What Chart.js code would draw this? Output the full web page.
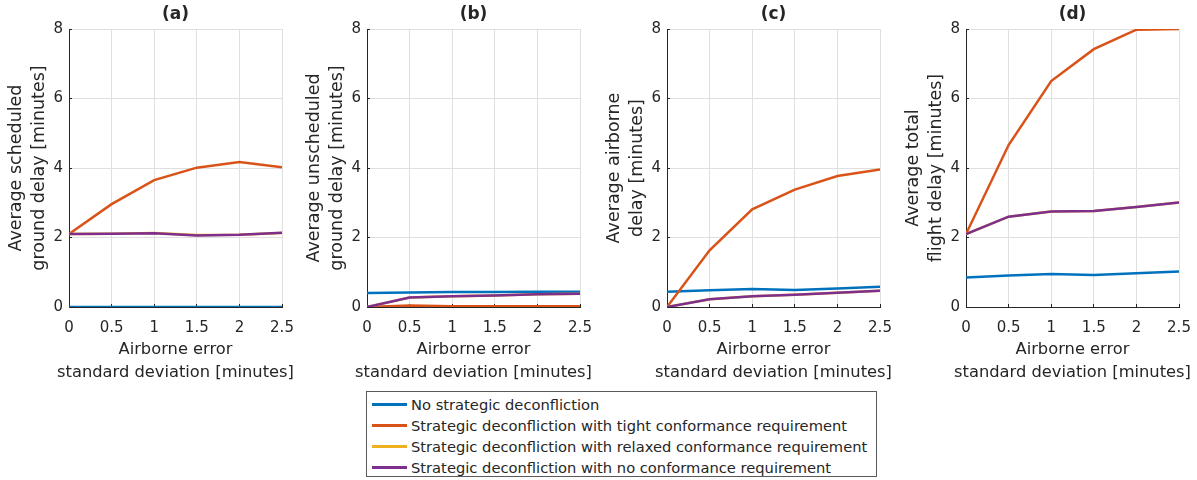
<!DOCTYPE html>
<html>
<head>
<meta charset="utf-8">
<script src="https://cdn.jsdelivr.net/npm/chart.js@4.4.1/dist/chart.umd.min.js"></script>
<style>
  html, body { margin: 0; padding: 0; background: #ffffff; }
  body { width: 1197px; height: 480px; position: relative; overflow: hidden; font-family: 'DejaVu Sans', sans-serif; color: #262626; }
  canvas { position: absolute; top: 0; }
  #legend { position: absolute; left: 366px; top: 391px; width: 511px; height: 86px; border: 1px solid #5a5a5a; box-sizing: border-box; background: #fff; }
  .row { position: absolute; left: 0; height: 21px; display: flex; align-items: center; font-size: 14.7px; white-space: nowrap; }
  .swatch { width: 35px; height: 2.5px; margin-left: 5px; margin-right: 4px; }
</style>
</head>
<body>
<canvas id="ca" width="298" height="390" style="left:0px"></canvas>
<canvas id="cb" width="298" height="390" style="left:298px"></canvas>
<canvas id="cc" width="298" height="390" style="left:598px"></canvas>
<canvas id="cd" width="298" height="390" style="left:897px"></canvas>
<div id="legend"></div>
<script>
// ---- data ----
const xValues = [0, 0.5, 1, 1.5, 2, 2.5];
const seriesNames = [
  'No strategic deconfliction',
  'Strategic deconfliction with tight conformance requirement',
  'Strategic deconfliction with relaxed conformance requirement',
  'Strategic deconfliction with no conformance requirement'
];
const yTicks = [0, 2, 4, 6, 8];
const panelTitles = ['(a)', '(b)', '(c)', '(d)'];
const yTitles = [
  ['Average scheduled', 'ground delay [minutes]'],
  ['Average unscheduled', 'ground delay [minutes]'],
  ['Average airborne', 'delay [minutes]'],
  ['Average total', 'flight delay [minutes]']
];
const xTitle = ['Airborne error', 'standard deviation [minutes]'];

// (a) scheduled ground delay
const aNone    = [0, 0, 0, 0, 0, 0];
const aTight   = [2.10, 2.96, 3.65, 4.01, 4.17, 4.02];
const aRelaxed = [2.10, 2.11, 2.13, 2.07, 2.08, 2.13];
const aNoConf  = [2.10, 2.11, 2.12, 2.06, 2.08, 2.14];
// (b) unscheduled ground delay
const bNone    = [0.40, 0.42, 0.43, 0.43, 0.44, 0.44];
const bTight   = [0, 0.04, 0.02, 0.02, 0.02, 0.02];
const bRelaxed = [0, 0.27, 0.31, 0.33, 0.37, 0.38];
const bNoConf  = [0, 0.27, 0.31, 0.33, 0.37, 0.38];
// (c) airborne delay
const cNone    = [0.44, 0.48, 0.52, 0.49, 0.53, 0.58];
const cTight   = [0, 1.63, 2.81, 3.38, 3.77, 3.96];
const cRelaxed = [0, 0.22, 0.31, 0.35, 0.41, 0.47];
const cNoConf  = [0, 0.22, 0.31, 0.35, 0.41, 0.47];
// (d) total flight delay
const dNone    = [0.85, 0.91, 0.95, 0.92, 0.97, 1.02];
const dTight   = [2.10, 4.66, 6.50, 7.42, 7.98, 8.00];
const dRelaxed = [2.10, 2.60, 2.75, 2.76, 2.88, 3.01];
const dNoConf  = [2.10, 2.60, 2.75, 2.76, 2.88, 3.01];

// ---- styles ----
const colors = ['#0072BD', '#D95319', '#EDB120', '#7E2F8E'];
const drawOrder = [4, 3, 2, 1];
const axisColor = '#262626';
const gridColor = '#dfdfdf';
const FONT = "'DejaVu Sans', sans-serif";

Chart.defaults.font.family = FONT;
Chart.defaults.color = axisColor;

const inwardTicks = {
  id: 'inwardTicks',
  beforeDatasetsDraw(chart) {
    const { ctx, chartArea, scales } = chart;
    ctx.save();
    ctx.strokeStyle = axisColor;
    ctx.lineWidth = 1;
    ctx.beginPath();
    scales.x.ticks.forEach(t => {
      const px = Math.round(scales.x.getPixelForValue(t.value) - 0.5) + 0.5;
      ctx.moveTo(px, chartArea.bottom);
      ctx.lineTo(px, chartArea.bottom - 3);
    });
    scales.y.ticks.forEach(t => {
      const py = Math.round(scales.y.getPixelForValue(t.value) - 0.5) + 0.5;
      ctx.moveTo(chartArea.left, py);
      ctx.lineTo(chartArea.left + 3, py);
    });
    ctx.stroke();
    ctx.restore();
  }
};

// x-axis title drawn without width compression (it is wider than the plot)
const xTitlePlugin = {
  id: 'xTitlePlugin',
  afterDraw(chart) {
    const { ctx, chartArea } = chart;
    const cx = (chartArea.left + chartArea.right) / 2;
    ctx.save();
    ctx.fillStyle = axisColor;
    ctx.font = '16.3px ' + FONT;
    ctx.textAlign = 'center';
    ctx.textBaseline = 'alphabetic';
    ctx.fillText(xTitle[0], cx, chartArea.bottom + 46.5);
    ctx.fillText(xTitle[1], cx, chartArea.bottom + 69.5);
    ctx.restore();
  }
};

function makePanel(id, idx, seriesList) {
  const datasets = seriesList.map((vals, i) => ({
    label: seriesNames[i],
    data: xValues.map((x, k) => ({ x: x, y: vals[k] })),
    borderColor: colors[i],
    backgroundColor: colors[i],
    borderWidth: 2.5,
    pointRadius: 0,
    tension: 0,
    order: drawOrder[i]
  }));
  new Chart(document.getElementById(id), {
    type: 'line',
    data: { datasets },
    plugins: [inwardTicks, xTitlePlugin],
    options: {
      responsive: false,
      animation: false,
      layout: { padding: { left: 0, right: 16, top: 0, bottom: 0 } },
      plugins: {
        legend: { display: false },
        tooltip: { enabled: false },
        title: {
          display: true,
          fullSize: false,
          text: panelTitles[idx],
          color: axisColor,
          font: { size: 17, weight: 'bold', lineHeight: 1.2 },
          padding: { top: 4.6, bottom: 4 }
        }
      },
      scales: {
        x: {
          type: 'linear',
          min: 0, max: 2.5,
          afterFit(scale) {
            scale.height = 83;
            scale.paddingLeft = 0;
            scale.paddingRight = 0;
          },
          ticks: {
            stepSize: 0.5, padding: 12, color: axisColor, font: { size: 15 },
            maxRotation: 0, autoSkip: false,
            callback: v => String(Number(v))
          },
          grid: { color: gridColor, lineWidth: 1, drawTicks: false },
          border: { display: true, color: axisColor, width: 1 },
          title: { display: false }
        },
        y: {
          type: 'linear',
          min: 0, max: 8,
          afterFit(scale) {
            scale.width = 69;
            scale.paddingTop = 0;
            scale.paddingBottom = 0;
          },
          afterBuildTicks(scale) { scale.ticks = yTicks.map(v => ({ value: v })); },
          ticks: { padding: 6, color: axisColor, font: { size: 15 }, callback: v => String(Number(v)) },
          grid: { color: gridColor, lineWidth: 1, drawTicks: false },
          border: { display: true, color: axisColor, width: 1 },
          title: {
            display: true, text: yTitles[idx], color: axisColor,
            font: { size: 17.5, lineHeight: 1.314 },
            padding: { top: 5, bottom: 0 }
          }
        }
      }
    }
  });
}

makePanel('ca', 0, [aNone, aTight, aRelaxed, aNoConf]);
makePanel('cb', 1, [bNone, bTight, bRelaxed, bNoConf]);
makePanel('cc', 2, [cNone, cTight, cRelaxed, cNoConf]);
makePanel('cd', 3, [dNone, dTight, dRelaxed, dNoConf]);

// legend
const legend = document.getElementById('legend');
seriesNames.forEach((name, i) => {
  const row = document.createElement('div');
  row.className = 'row';
  row.style.top = (2 + i * 21) + 'px';
  const sw = document.createElement('div');
  sw.className = 'swatch';
  sw.style.background = colors[i];
  const tx = document.createElement('span');
  tx.textContent = name;
  row.appendChild(sw);
  row.appendChild(tx);
  legend.appendChild(row);
});
</script>
</body>
</html>
